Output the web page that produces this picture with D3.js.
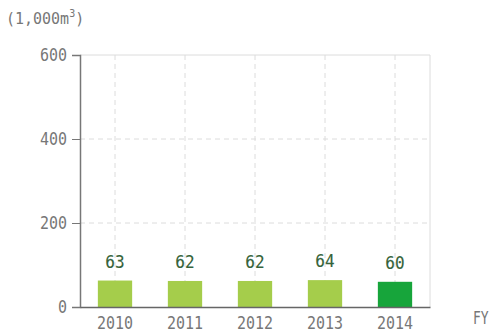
<!DOCTYPE html>
<html><head><meta charset="utf-8">
<script src="https://cdn.jsdelivr.net/npm/d3@7"></script>
<style>
body{margin:0;background:#fff;}
svg{display:block;}
text{font-family:"DejaVu Sans Mono","Liberation Mono",monospace;}
</style></head>
<body><svg id="c" width="490" height="334"></svg>
<script>
const categories = ["2010","2011","2012","2013","2014"];
const values = [63, 62, 62, 64, 60];
const barColors = ["#a5cd4b","#a5cd4b","#a5cd4b","#a5cd4b","#17a53b"];
const yTicks = [0, 200, 400, 600];
const unitLabel = "(1,000m";
const xTitle = "FY";

const svg = d3.select("#c");
const m = {l:80, r:430, t:55, b:307};
const x = d3.scaleBand().domain(categories).range([m.l, m.r]).paddingInner(0.51).paddingOuter(0.255);
const y = d3.scaleLinear().domain([0, 600]).range([m.b, m.t]);

// horizontal grid
svg.append("g").selectAll("line").data(yTicks.filter(d=>d>0)).join("line")
  .attr("x1", m.l).attr("x2", m.r).attr("y1", d=>y(d)).attr("y2", d=>y(d))
  .attr("stroke", "#dcdcdc").attr("stroke-width", 1)
  .attr("stroke-dasharray", d=>d===600?null:"5,4");
// vertical grid at band centers
svg.append("g").selectAll("line").data(categories).join("line")
  .attr("x1", d=>x(d)+x.bandwidth()/2).attr("x2", d=>x(d)+x.bandwidth()/2)
  .attr("y1", m.t).attr("y2", m.b)
  .attr("stroke", "#dcdcdc").attr("stroke-dasharray", "5,4");
// right border
svg.append("line").attr("x1", m.r).attr("x2", m.r).attr("y1", m.t).attr("y2", m.b)
  .attr("stroke", "#dcdcdc");

// bars
svg.append("g").selectAll("rect").data(values).join("rect")
  .attr("x", (d,i)=>x(categories[i])).attr("width", x.bandwidth())
  .attr("y", d=>y(d)).attr("height", d=>y(0)-y(d))
  .attr("fill", (d,i)=>barColors[i]);

// value labels
svg.append("g").selectAll("text").data(values).join("text")
  .attr("transform", (d,i)=>`translate(${x(categories[i])+x.bandwidth()/2},${y(d)-13}) scale(1,1.05)`)
  .attr("text-anchor", "middle").attr("font-size", 16)
  .attr("fill", "#35633a").attr("stroke", "#35633a").attr("stroke-width", 0.12)
  .text(d=>d);

// y axis
const ya = svg.append("g").attr("transform", `translate(${m.l},0)`)
  .call(d3.axisLeft(y).tickValues(yTicks).tickSize(8).tickPadding(5));
ya.select(".domain").attr("stroke", "#777").attr("stroke-width", 1.5);
ya.selectAll(".tick line").attr("stroke", "#777");
ya.selectAll(".tick text").attr("font-size", 15).attr("fill", "#777")
  .attr("font-family", "DejaVu Sans Mono").attr("transform", "scale(1,1.15)");

// x axis
const xa = svg.append("g").attr("transform", `translate(0,${m.b})`)
  .call(d3.axisBottom(x).tickSize(0).tickPadding(19));
xa.select(".domain").attr("stroke", "#666").attr("stroke-width", 1.5);
xa.selectAll(".tick text").attr("font-size", 15).attr("fill", "#777")
  .attr("font-family", "DejaVu Sans Mono").attr("dy", "0").attr("transform", "scale(1,1.15)");

// unit label
const ut = svg.append("text").attr("transform", "translate(6,24) scale(1,1.1)")
  .attr("font-size", 15).attr("fill", "#777");
ut.append("tspan").text(unitLabel);
ut.append("tspan").attr("font-size", 10).attr("dy", -6).text("3");
ut.append("tspan").attr("dy", 6).text(")");

// FY
svg.append("text").attr("transform", "translate(473,324) scale(1,1.35)")
  .attr("font-size", 13).attr("fill", "#777").text(xTitle);
</script></body></html>
